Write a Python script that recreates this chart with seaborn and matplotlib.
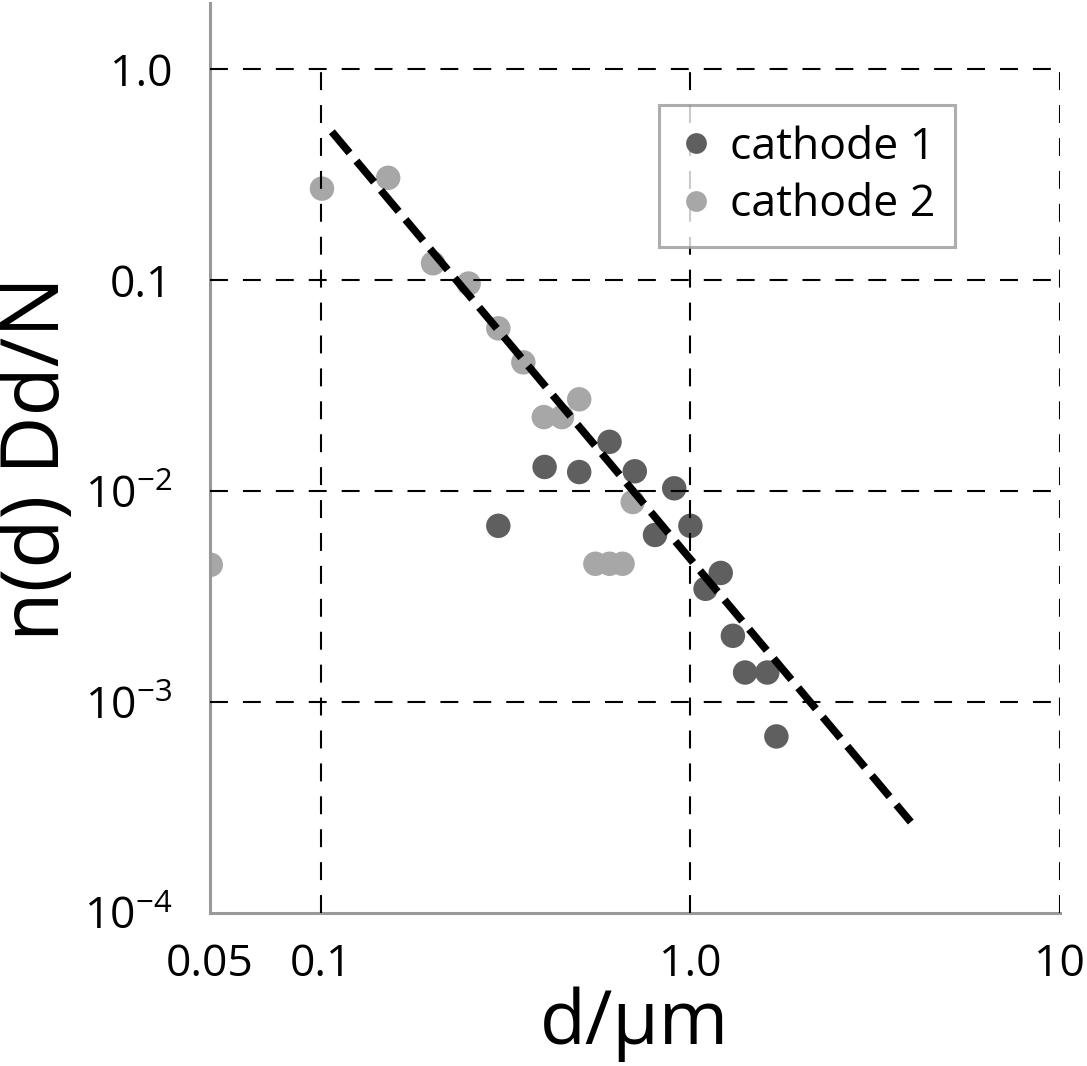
import numpy as np
import pandas as pd
import seaborn as sns
import matplotlib.pyplot as plt

# particle size data (d in um, n(d) Dd/N)
d_cathode1 = [0.302, 0.403, 0.500, 0.604, 0.707, 0.802, 0.904, 1.000, 1.099, 1.208, 1.303, 1.406, 1.615, 1.709]
n_cathode1 = [0.00684, 0.0130, 0.0123, 0.0171, 0.0124, 0.00619, 0.0103, 0.00684, 0.00344, 0.00409, 0.00206, 0.00138, 0.00138, 0.000687]

d_cathode2 = [0.0503, 0.1006, 0.152, 0.201, 0.251, 0.302, 0.353, 0.401, 0.449, 0.500, 0.553, 0.604, 0.655, 0.698]
n_cathode2 = [0.00447, 0.271, 0.305, 0.120, 0.0962, 0.059, 0.0407, 0.0224, 0.0224, 0.0272, 0.00452, 0.00452, 0.00452, 0.00887]

# power-law fit line (end points)
fit_d = [0.107, 3.95]
fit_n = [0.504, 0.00027]

x_ticks = [0.05, 0.1, 1.0, 10]
x_labels = ['0.05', '0.1', '1.0', '10']
y_ticks = [1e-4, 1e-3, 1e-2, 0.1, 1.0]
y_labels = [r'$10^{-4}$', r'$10^{-3}$', r'$10^{-2}$', '0.1', '1.0']

df = pd.DataFrame({
    'd': d_cathode1 + d_cathode2,
    'n': n_cathode1 + n_cathode2,
    'cathode': ['cathode 1'] * len(d_cathode1) + ['cathode 2'] * len(d_cathode2),
})

sns.set_style('white')
plt.rcParams['font.family'] = ['Open Sans', 'DejaVu Sans']
plt.rcParams['mathtext.fontset'] = 'custom'
plt.rcParams['mathtext.rm'] = 'Open Sans'
plt.rcParams['mathtext.it'] = 'Open Sans'
plt.rcParams['mathtext.default'] = 'regular'
plt.rcParams['text.color'] = 'black'
plt.rcParams['axes.labelcolor'] = 'black'
plt.rcParams['xtick.labelcolor'] = 'black'
plt.rcParams['ytick.labelcolor'] = 'black'

fig = plt.figure(figsize=(10.87, 10.66), dpi=100)
ax = fig.add_axes([0.193, 0.1435, 0.782, 0.8535])

sns.scatterplot(data=df, x='d', y='n', hue='cathode',
                palette={'cathode 1': '#5f5f5f', 'cathode 2': '#a7a7a7'},
                s=310, edgecolor='none', linewidth=0, zorder=2, ax=ax)

ax.set_xscale('log')
ax.set_yscale('log')
ax.set_xlim(0.05, 10)
ax.set_ylim(1e-4, 2.05)

# dashed grid, only up to 1.0
grid_style = dict(color='black', linewidth=1.5, linestyle=(0, (8.6, 7.2)), zorder=3)
ax.vlines([0.1, 1.0, 10], 1e-4, 1.0, **grid_style)
ax.hlines([1e-3, 1e-2, 0.1, 1.0], 0.05, 10, **grid_style)

ax.plot(fit_d, fit_n, color='black', linewidth=5.5, linestyle=(0, (3.6, 1.4)),
        dash_capstyle='butt', zorder=4)

ax.set_xticks(x_ticks)
ax.set_xticklabels(x_labels)
ax.set_yticks(y_ticks)
ax.set_yticklabels(y_labels)
ax.minorticks_off()
ax.tick_params(axis='both', which='major', labelsize=32, color='#999999',
               width=2.2, length=9, direction='out')
ax.tick_params(axis='x', pad=12)
ax.tick_params(axis='y', pad=18)

for side in ['top', 'right']:
    ax.spines[side].set_visible(False)
for side in ['left', 'bottom']:
    ax.spines[side].set_color('#999999')
    ax.spines[side].set_linewidth(2.2)

ax.set_xlabel('d/μm', fontsize=54, labelpad=0)
ax.set_ylabel('n(d) Dd/N', fontsize=58, labelpad=4)

leg = ax.legend(loc='upper left', bbox_to_anchor=(0.528, 0.888), fontsize=32,
                frameon=True, fancybox=False, borderpad=0.45, handletextpad=0.35,
                handlelength=0.8, labelspacing=0.3, markerscale=0.85,
                borderaxespad=0)
leg.get_frame().set_edgecolor('#999999')
leg.get_frame().set_linewidth(2.2)

fig.savefig('out.png', dpi=100)
